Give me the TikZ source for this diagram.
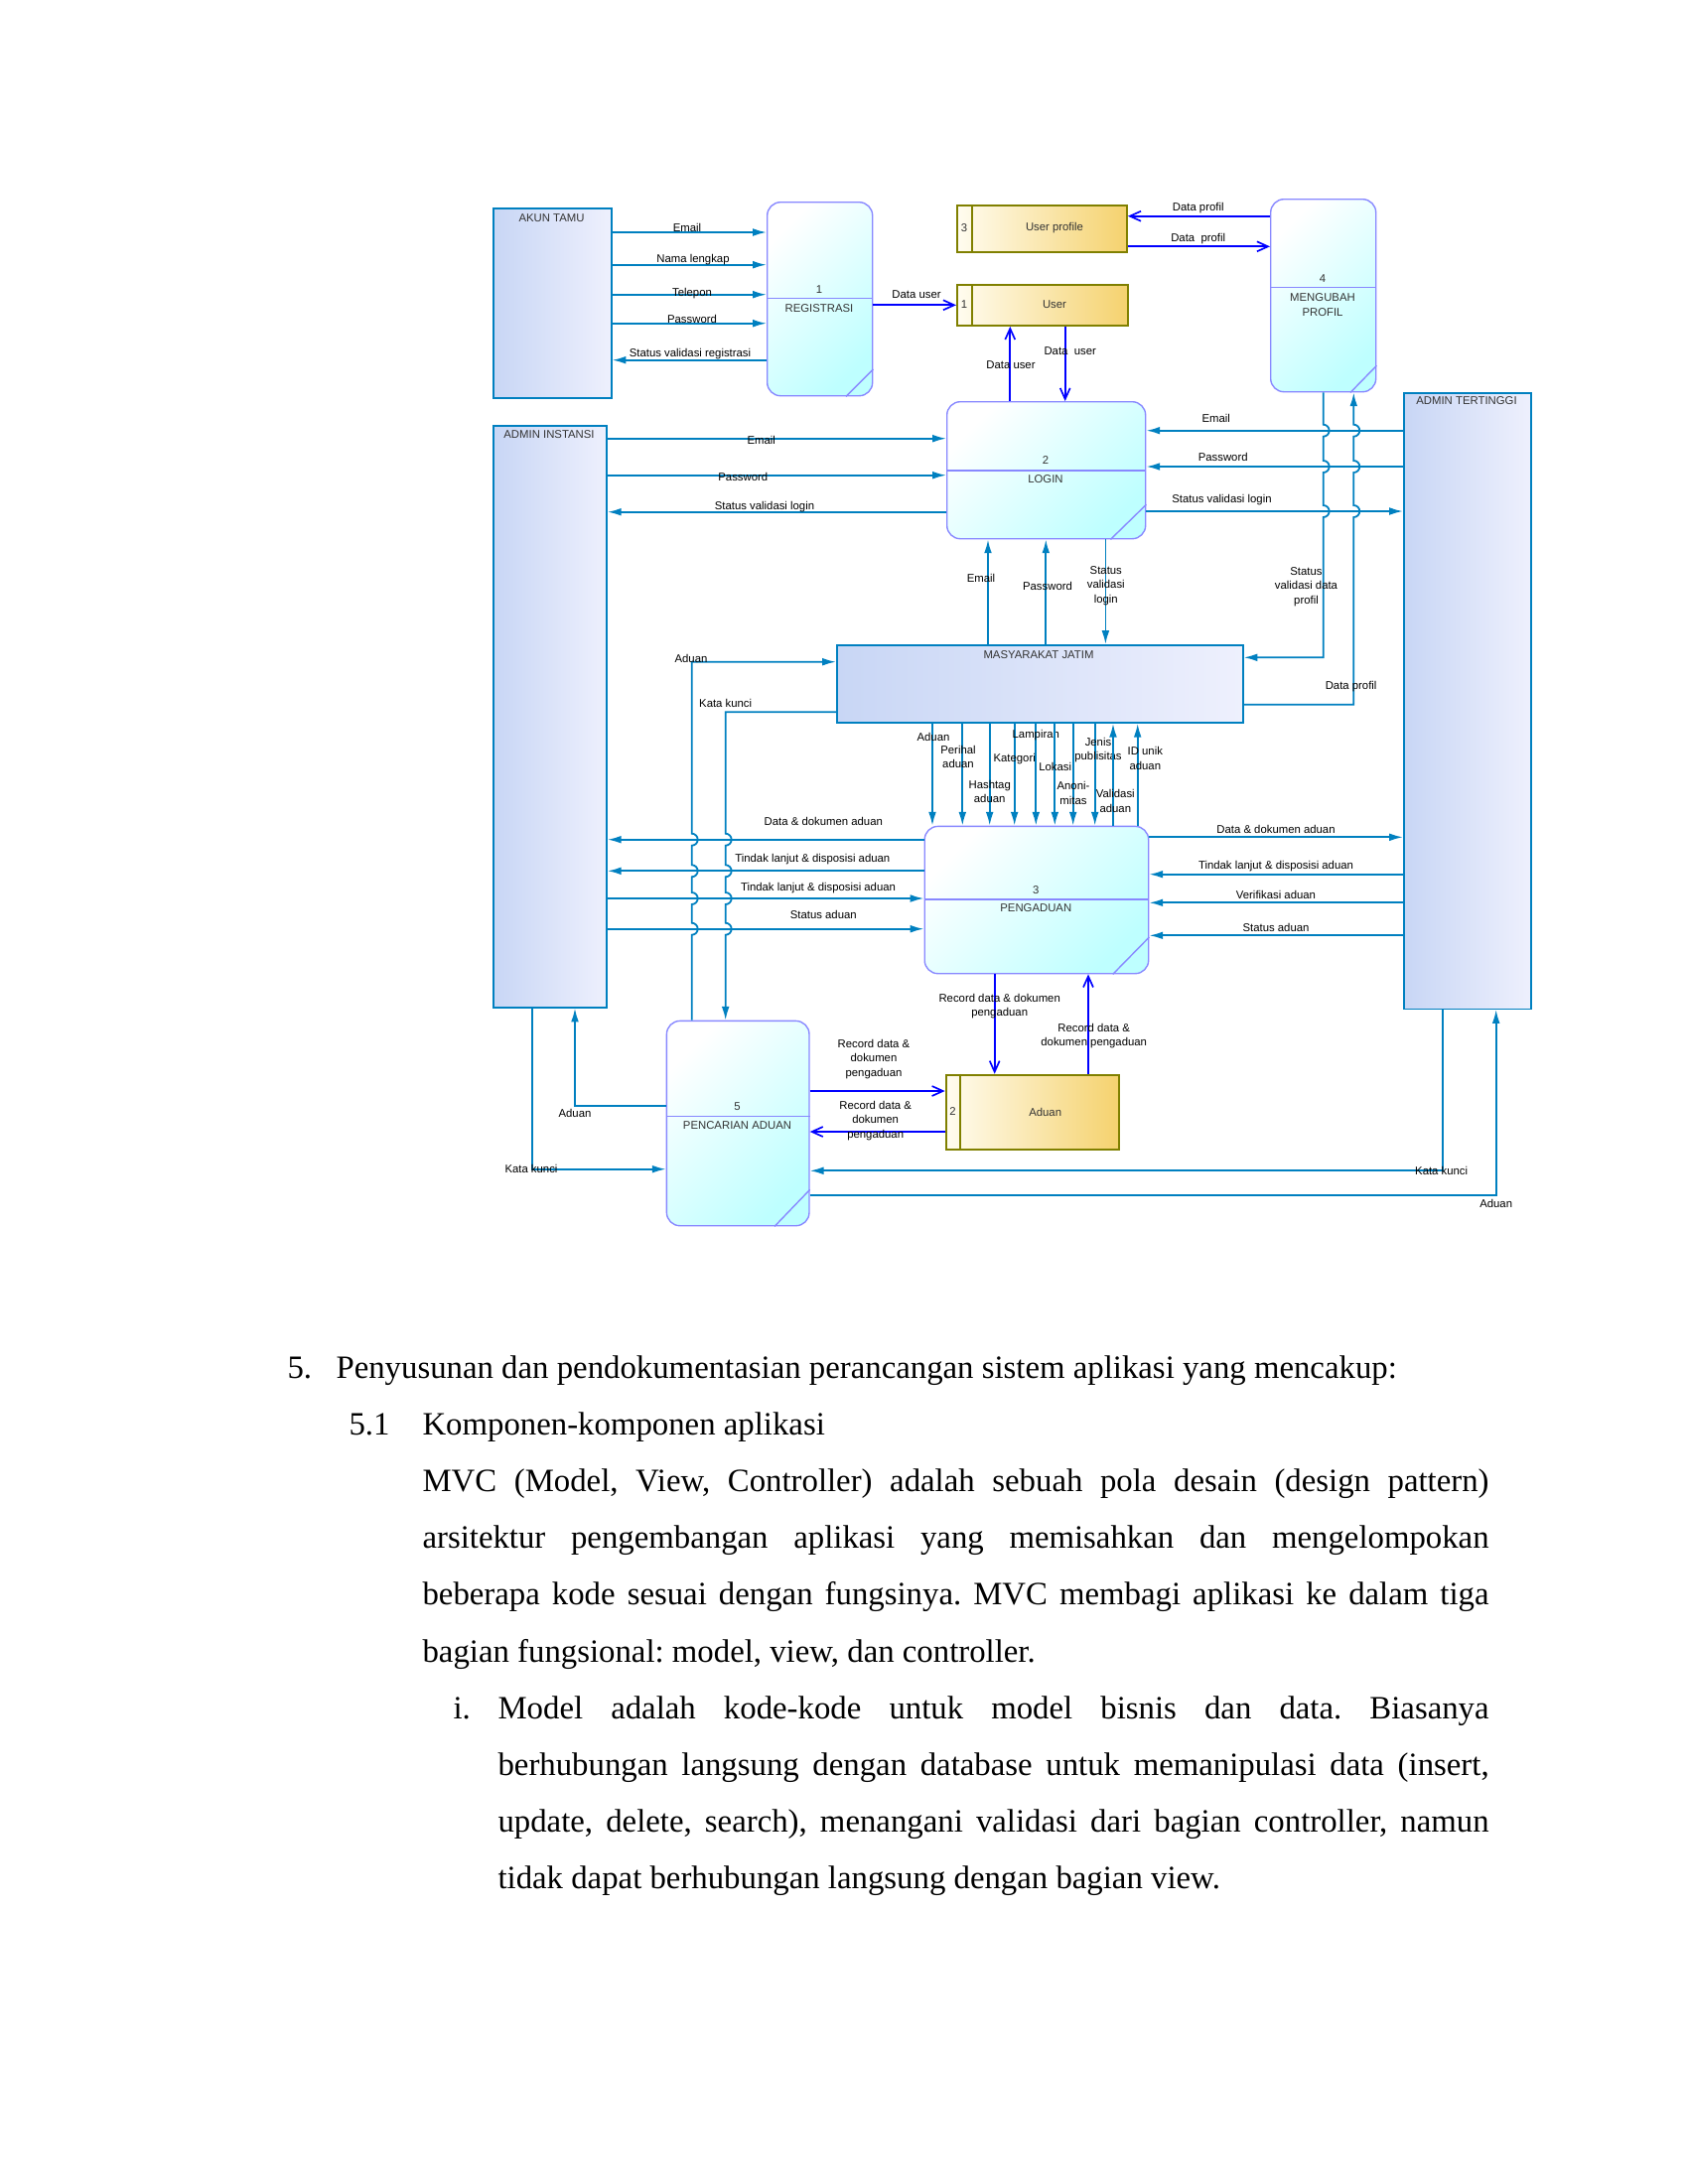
\documentclass[tikz,border=0pt]{standalone}
\usepackage{fontspec}
\setmainfont{Liberation Serif}
\newfontfamily\dfdfont{Liberation Sans}
\usetikzlibrary{arrows.meta,positioning,calc}
\frenchspacing

\definecolor{flowc}{RGB}{0,128,192}
\definecolor{dsflow}{RGB}{0,0,255}
\definecolor{procline}{RGB}{136,136,255}
\definecolor{procfill}{RGB}{190,255,255}
\definecolor{entl}{RGB}{200,214,245}
\definecolor{entr}{RGB}{238,240,253}
\definecolor{storeline}{RGB}{128,128,0}
\definecolor{storel}{RGB}{255,252,240}
\definecolor{storer}{RGB}{245,210,110}

\tikzset{
    wh/.style 2 args={minimum width=#1*0.127mm, minimum height=#2*0.127mm},
    proc/.style={draw=procline, line width=0.5pt, rounded corners=1.7mm, top color=white, bottom color=procfill, shading angle=45, inner sep=0, anchor=north west},
    ent/.style={draw=flowc, line width=0.55pt, left color=entl, right color=entr, inner sep=0, anchor=north west},
    store/.style={draw=storeline, line width=0.7pt, left color=storel, right color=storer, inner sep=0, anchor=north west},
    sep/.style={draw=procline, line width=0.5pt},
    ssep/.style={draw=storeline, line width=0.6pt},
    ttl/.style={font=\dfdfont\fontsize{4.1}{5.4}\selectfont, text=black!80, align=center, inner sep=0},
    lbl/.style={font=\dfdfont\fontsize{4.1}{5.2}\selectfont, align=center, inner sep=0},
    flow/.style={draw=flowc, line width=0.65pt, -{Latex[length=5pt,width=2.8pt]}},
    dsf/.style={draw=dsflow, line width=0.6pt, -{Straight Barb[length=4pt,width=3.6pt]}},
    body/.style={inner sep=0, anchor=base west, font=\fontsize{11.85}{14}\selectfont}
}

\begin{document}
\begin{tikzpicture}[x=0.127mm, y=-0.127mm]
\useasboundingbox (0,0) rectangle (1700,2200);

% external entities
\node[ent, wh={119}{191}] (akun) at (496,209) {};
\node[ttl] (akunt) at (555.5,220) {AKUN TAMU};
\node[ent, wh={114.3}{586}] (ains) at (496,428) {};
\node[ttl] (ainst) at (553,437.7) {ADMIN INSTANSI};
\node[ent, wh={128}{620.5}] (atg) at (1413,395) {};
\node[ttl] (atgt) at (1477,404) {ADMIN TERTINGGI};
\node[ent, wh={409}{78.3}] (masy) at (842,649) {};
\node[ttl] (masyt) at (1046,660) {MASYARAKAT JATIM};

% processes
\node[proc, wh={106}{195}] (reg) at (772,203) {};
\draw[sep] (reg.west |- 0,300.7) -- (reg.east |- 0,300.7);
\draw[sep] (reg.east |- 0,372) -- (reg.south -| 852,0);
\node[ttl] (regn) at (825,291.7) {1};
\node[ttl] (regt) at (825,310.7) {REGISTRASI};

\node[proc, wh={200}{138}] (login) at (953,404) {};
\draw[sep] (login.west |- 0,474) -- (login.east |- 0,474);
\draw[sep] (login.east |- 0,508.3) -- (login.south -| 1118.4,0);
\node[ttl] (loginn) at (1053,463.3) {2};
\node[ttl] (logint) at (1053,482.7) {LOGIN};

\node[proc, wh={225.5}{148.3}] (peng) at (930.5,831.7) {};
\draw[sep] (peng.west |- 0,906) -- (peng.east |- 0,906);
\draw[sep] (peng.east |- 0,944) -- (peng.south -| 1120.7,0);
\node[ttl] (pengn) at (1043.3,896.3) {3};
\node[ttl] (pengt) at (1043.3,914.5) {PENGADUAN};

\node[proc, wh={106}{194}] (ubah) at (1279,200) {};
\draw[sep] (ubah.west |- 0,289.3) -- (ubah.east |- 0,289.3);
\draw[sep] (ubah.east |- 0,368.3) -- (ubah.south -| 1360,0);
\node[ttl] (ubahn) at (1332,280.7) {4};
\node[ttl] (ubaht) at (1332,307.5) {MENGUBAH\\PROFIL};

\node[proc, wh={143.6}{206.3}] (cari) at (670.7,1027.7) {};
\draw[sep] (cari.west |- 0,1124.3) -- (cari.east |- 0,1124.3);
\draw[sep] (cari.east |- 0,1198.3) -- (cari.south -| 780,0);
\node[ttl] (carin) at (742.5,1115) {5};
\node[ttl] (carit) at (742.5,1134) {PENCARIAN ADUAN};

% data stores
\node[store, wh={171}{47}] (upro) at (963,206) {};
\draw[ssep] (upro.north -| 979,0) -- (upro.south -| 979,0);
\node[ttl] (upron) at (971,230) {3};
\node[ttl] (uprot) at (1062,230) {User profile};

\node[store, wh={172}{41}] (user) at (963,286) {};
\draw[ssep] (user.north -| 979,0) -- (user.south -| 979,0);
\node[ttl] (usern) at (971,306.7) {1};
\node[ttl] (usert) at (1062,306.7) {User};

\node[store, wh={174.3}{75}] (adst) at (951.7,1081.7) {};
\draw[ssep] (adst.north -| 967.3,0) -- (adst.south -| 967.3,0);
\node[ttl] (adstn) at (959.5,1120) {2};
\node[ttl] (adstt) at (1052.7,1120) {Aduan};

% akun tamu - registrasi
\draw[flow] (akun.east |- 0,234) -- (reg.west |- 0,234) node[lbl] (fRegEmail) at (692,229) {Email};
\draw[flow] (akun.east |- 0,266.7) -- (reg.west |- 0,266.7) node[lbl] (fRegNama) at (698,262) {Nama lengkap};
\draw[flow] (akun.east |- 0,296.7) -- (reg.west |- 0,296.7) node[lbl] (fRegTelp) at (697,296) {Telepon};
\draw[flow] (akun.east |- 0,325.7) -- (reg.west |- 0,325.7) node[lbl] (fRegPass) at (697,321) {Password};
\draw[flow] (reg.west |- 0,362.7) -- (akun.east |- 0,362.7) node[lbl] (fRegStat) at (695,356.7) {Status validasi registrasi};

% data store flows
\draw[dsf] (reg.east |- 0,307.3) -- (user.west |- 0,307.3) node[lbl] (fUserIn) at (923,296.7) {Data user};
\draw[dsf] (ubah.west |- 0,217.7) -- (upro.east |- 0,217.7) node[lbl] (fProIn) at (1206.7,210) {Data profil};
\draw[dsf] (upro.east |- 0,248.3) -- (ubah.west |- 0,248.3) node[lbl] (fProOut) at (1206.7,241) {Data\ \ profil};
\draw[dsf] (login.north -| 1017.3,0) -- (user.south -| 1017.3,0) node[lbl] (fLogUp) at (1018,367.7) {Data user};
\draw[dsf] (user.south -| 1072.7,0) -- (login.north -| 1072.7,0) node[lbl] (fLogDn) at (1077.7,354) {Data\ \ user};

% login
\draw[flow] (ains.east |- 0,441.7) -- (login.west |- 0,441.7) node[lbl] (fAiEmail) at (766.7,443.3) {Email};
\draw[flow] (ains.east |- 0,478.7) -- (login.west |- 0,478.7) node[lbl] (fAiPass) at (748.3,480) {Password};
\draw[flow] (login.west |- 0,515.7) -- (ains.east |- 0,515.7) node[lbl] (fAiStat) at (770,510.7) {Status validasi login};
\draw[flow] (atg.west |- 0,433.7) -- (login.east |- 0,433.7) node[lbl] (fAtEmail) at (1224.8,421.7) {Email};
\draw[flow] (atg.west |- 0,470) -- (login.east |- 0,470) node[lbl] (fAtPass) at (1231.7,460.7) {Password};
\draw[flow] (login.east |- 0,515) -- (atg.west |- 0,515) node[lbl] (fAtStat) at (1230.5,503.3) {Status validasi login};
\draw[flow] (masy.north -| 995,0) -- (login.south -| 995,0) node[lbl] (fMsEmail) at (988,582.7) {Email};
\draw[flow] (masy.north -| 1053.3,0) -- (login.south -| 1053.3,0) node[lbl] (fMsPass) at (1055,590) {Password};
\draw[flow] (login.south -| 1113.4,0) -- (masy.north -| 1113.4,0) node[lbl] (fMsStat) at (1113.8,590) {Status\\validasi\\login};

% mengubah profil - masyarakat (with hops)
\draw[flow] (ubah.south -| 1332.7,0) -- (1332.7,427.7) arc[start angle=-90,end angle=90,radius=6]
    -- (1332.7,464) arc[start angle=-90,end angle=90,radius=6]
    -- (1332.7,509) arc[start angle=-90,end angle=90,radius=6]
    -- (1332.7,662.3) -- (masy.east |- 0,662.3) node[lbl] (fUbStat) at (1315.5,591) {Status\\validasi data\\profil};
\draw[flow] (masy.east |- 0,709.7) -- (1363.3,709.7) -- (1363.3,521) arc[start angle=90,end angle=-90,radius=6]
    -- (1363.3,476) arc[start angle=90,end angle=-90,radius=6]
    -- (1363.3,439.7) arc[start angle=90,end angle=-90,radius=6]
    -- (ubah.south -| 1363.3,0) node[lbl] (fUbData) at (1360.6,691.7) {Data profil};

% admin instansi - pengaduan
\draw[flow] (peng.west |- 0,845.7) -- (ains.east |- 0,845.7) node[lbl] (fAiDok) at (829.3,827.7) {Data \& dokumen aduan};
\draw[flow] (peng.west |- 0,877.3) -- (ains.east |- 0,877.3) node[lbl] (fAiTl1) at (818.3,866) {Tindak lanjut \& disposisi aduan};
\draw[flow] (ains.east |- 0,905) -- (peng.west |- 0,905) node[lbl] (fAiTl2) at (824,895) {Tindak lanjut \& disposisi aduan};
\draw[flow] (ains.east |- 0,935.7) -- (peng.west |- 0,935.7) node[lbl] (fAiSt) at (829.3,921.7) {Status aduan};

% masyarakat - pencarian (with hops)
\draw[flow] (cari.north -| 696.7,0) -- (696.7,941.7) arc[start angle=90,end angle=-90,radius=6]
    -- (696.7,911) arc[start angle=90,end angle=-90,radius=6]
    -- (696.7,883.3) arc[start angle=90,end angle=-90,radius=6]
    -- (696.7,851.7) arc[start angle=90,end angle=-90,radius=6]
    -- (696.7,666.7) -- (masy.west |- 0,666.7) node[lbl] (fCrAduan) at (696,663) {Aduan};
\draw[flow] (masy.west |- 0,717.3) -- (730.7,717.3) -- (730.7,839.7) arc[start angle=-90,end angle=90,radius=6]
    -- (730.7,871.3) arc[start angle=-90,end angle=90,radius=6]
    -- (730.7,899) arc[start angle=-90,end angle=90,radius=6]
    -- (730.7,929.7) arc[start angle=-90,end angle=90,radius=6]
    -- (cari.north -| 730.7,0) node[lbl] (fCrKata) at (730.7,708.3) {Kata kunci};

% masyarakat - pengaduan
\draw[flow] (masy.south -| 939,0) -- (peng.north -| 939,0) node[lbl] (fPgAduan) at (940,742.7) {Aduan};
\draw[flow] (masy.south -| 969.3,0) -- (peng.north -| 969.3,0) node[lbl] (fPgPerihal) at (965,762.5) {Perihal\\aduan};
\draw[flow] (masy.south -| 996.7,0) -- (peng.north -| 996.7,0) node[lbl] (fPgHash) at (996.7,797.5) {Hashtag\\aduan};
\draw[flow] (masy.south -| 1021.7,0) -- (peng.north -| 1021.7,0) node[lbl] (fPgKat) at (1021.7,765) {Kategori};
\draw[flow] (masy.south -| 1043.3,0) -- (peng.north -| 1043.3,0) node[lbl] (fPgLamp) at (1043.3,740.7) {Lampiran};
\draw[flow] (masy.south -| 1062.3,0) -- (peng.north -| 1062.3,0) node[lbl] (fPgLok) at (1062.7,772.7) {Lokasi};
\draw[flow] (masy.south -| 1080.7,0) -- (peng.north -| 1080.7,0) node[lbl] (fPgAnon) at (1081,799) {Anoni-\\mitas};
\draw[flow] (masy.south -| 1102.7,0) -- (peng.north -| 1102.7,0) node[lbl] (fPgJenis) at (1106,755.5) {Jenis\\publisitas};
\draw[flow] (peng.north -| 1121,0) -- (masy.south -| 1121,0) node[lbl] (fPgValid) at (1123.3,806.8) {Validasi\\aduan};
\draw[flow] (peng.north -| 1145.7,0) -- (masy.south -| 1145.7,0) node[lbl] (fPgId) at (1153.3,763.8) {ID unik\\aduan};

% pengaduan - admin tertinggi
\draw[flow] (peng.east |- 0,843.3) -- (atg.west |- 0,843.3) node[lbl] (fAtDok) at (1285,835) {Data \& dokumen aduan};
\draw[flow] (atg.west |- 0,880.7) -- (peng.east |- 0,880.7) node[lbl] (fAtTl) at (1285,872.7) {Tindak lanjut \& disposisi aduan};
\draw[flow] (atg.west |- 0,909.3) -- (peng.east |- 0,909.3) node[lbl] (fAtVer) at (1285,901.7) {Verifikasi aduan};
\draw[flow] (atg.west |- 0,942.3) -- (peng.east |- 0,942.3) node[lbl] (fAtSt) at (1285,934) {Status aduan};

% aduan store
\draw[dsf] (peng.south -| 1001.7,0) -- (adst.north -| 1001.7,0) node[lbl] (fStIn) at (1006.7,1013.8) {Record data \& dokumen\\pengaduan};
\draw[dsf] (adst.north -| 1096,0) -- (peng.south -| 1096,0) node[lbl] (fStOut) at (1101.7,1043.8) {Record data \&\\dokumen pengaduan};
\draw[dsf] (cari.east |- 0,1099) -- (adst.west |- 0,1099) node[lbl] (fCrStIn) at (880,1066.7) {Record data \&\\dokumen\\pengaduan};
\draw[dsf] (adst.west |- 0,1140) -- (cari.east |- 0,1140) node[lbl] (fCrStOut) at (881.7,1128.7) {Record data \&\\dokumen\\pengaduan};

% pencarian - admins
\draw[flow] (cari.west |- 0,1114) -- (579,1114) -- (ains.south -| 579,0) node[lbl] (fAiAduan) at (579,1121.7) {Aduan};
\draw[flow] (ains.south -| 536,0) -- (536,1177.7) -- (cari.west |- 0,1177.7) node[lbl] (fAiKata) at (535,1177.7) {Kata kunci};
\draw[flow] (atg.south -| 1452.7,0) -- (1452.7,1179.3) -- (cari.east |- 0,1179.3) node[lbl] (fAtKata) at (1451.7,1179.3) {Kata kunci};
\draw[flow] (cari.east |- 0,1204.3) -- (1506.7,1204.3) -- (atg.south -| 1506.7,0) node[lbl] (fAtAduan) at (1506.7,1212.7) {Aduan};

% body text
\node[body] (n5) at (289,1388) {5.};
\node[body] (h5) at (338,1388) {Penyusunan dan pendokumentasian perancangan sistem aplikasi yang mencakup:};
\node[body] (n51) at (351,1445.2) {5.1};
\node[body] (h51) at (425,1445.2) {Komponen-komponen aplikasi};
\node[body] (p1) at (425,1502.4) {\makebox[136.4mm][s]{MVC (Model, View, Controller) adalah sebuah pola desain (design pattern)}};
\node[body] (p2) at (425,1559.6) {\makebox[136.4mm][s]{arsitektur pengembangan aplikasi yang memisahkan dan mengelompokan}};
\node[body] (p3) at (425,1616.8) {\makebox[136.4mm][s]{beberapa kode sesuai dengan fungsinya. MVC membagi aplikasi ke dalam tiga}};
\node[body] (p4) at (425,1674) {bagian fungsional: model, view, dan controller.};
\node[body] (ni) at (456,1731.2) {i.};
\node[body] (q1) at (501,1731.2) {\makebox[126.75mm][s]{Model adalah kode-kode untuk model bisnis dan data. Biasanya}};
\node[body] (q2) at (501,1788.4) {\makebox[126.75mm][s]{berhubungan langsung dengan database untuk memanipulasi data (insert,}};
\node[body] (q3) at (501,1845.6) {\makebox[126.75mm][s]{update, delete, search), menangani validasi dari bagian controller, namun}};
\node[body] (q4) at (501,1902.8) {tidak dapat berhubungan langsung dengan bagian view.};
\end{tikzpicture}
\end{document}
